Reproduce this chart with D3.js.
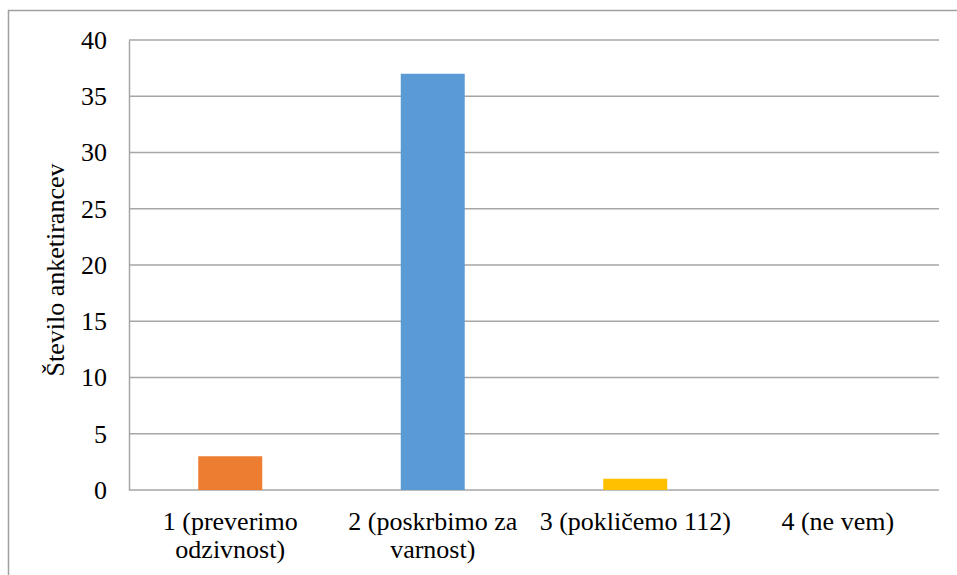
<!DOCTYPE html>
<html>
<head>
<meta charset="utf-8">
<script src="https://cdn.jsdelivr.net/npm/d3@7"></script>
<style>
  body { margin: 0; background: #fff; }
</style>
</head>
<body>
<div id="chart"></div>
<script>
// Data
const categories = ["1", "2", "3", "4"];
const categoryLabels = [
    ["1 (preverimo", "odzivnost)"],
    ["2 (poskrbimo za", "varnost)"],
    ["3 (pokličemo 112)"],
    ["4 (ne vem)"]
];
const counts = [3, 37, 1, 0];
const barColors = ["#ED7D31", "#5B9BD5", "#FFC000", "#A5A5A5"];
const yTicks = [0, 5, 10, 15, 20, 25, 30, 35, 40];
const yTitle = "Število anketirancev";

const FONT = "Liberation Serif, Tinos, DejaVu Serif, serif";

// Dimensions
const W = 957, H = 575;
const margin = { top: 40, right: 18, bottom: 85, left: 129 },
    width = W - margin.left - margin.right,
    height = H - margin.top - margin.bottom;

const root = d3.select("#chart")
    .append("svg")
    .attr("width", W)
    .attr("height", H)
    .style("font-family", FONT);

// Chart border (cropped on the right and bottom)
root.append("rect")
    .attr("x", 8.5)
    .attr("y", 10.5)
    .attr("width", 1000)
    .attr("height", 1000)
    .attr("fill", "none")
    .attr("stroke", "#a0a0a0")
    .attr("stroke-width", 1.5);

const svg = root.append("g")
    .attr("transform", `translate(${margin.left},${margin.top})`);

// Scales
const x = d3.scaleBand()
    .domain(categories)
    .range([0, width])
    .paddingInner(0.684)
    .paddingOuter(0.342);

const y = d3.scaleLinear()
    .domain([0, 40])
    .range([height, 0]);

// Gridlines
svg.append("g")
    .attr("class", "grid")
    .selectAll("line")
    .data(yTicks)
    .enter().append("line")
    .attr("x1", 0)
    .attr("x2", width)
    .attr("y1", d => y(d))
    .attr("y2", d => y(d))
    .attr("stroke", "#a6a6a6")
    .attr("stroke-width", 1.5);

// Y axis
const yAxis = svg.append("g")
    .call(d3.axisLeft(y).tickValues(yTicks).tickSize(0).tickPadding(22))
    .attr("font-family", FONT)
    .attr("font-size", 26);
yAxis.select(".domain").attr("stroke", "#a6a6a6").attr("stroke-width", 1.5);
yAxis.selectAll("text").attr("fill", "#000");

// Y title
svg.append("text")
    .attr("transform", "rotate(-90)")
    .attr("x", -height / 2 - 5)
    .attr("y", -margin.left + 64)
    .attr("text-anchor", "middle")
    .attr("font-family", FONT)
    .attr("font-size", 26)
    .text(yTitle);

// Bars
svg.selectAll(".bar")
    .data(counts)
    .enter().append("rect")
    .attr("class", "bar")
    .attr("x", (d, i) => x(categories[i]))
    .attr("y", d => y(d))
    .attr("width", x.bandwidth())
    .attr("height", d => height - y(d))
    .attr("fill", (d, i) => barColors[i]);

// Category labels
const labels = svg.append("g")
    .selectAll("text")
    .data(categoryLabels)
    .enter().append("text")
    .attr("x", (d, i) => x(categories[i]) + x.bandwidth() / 2)
    .attr("y", height + 40)
    .attr("text-anchor", "middle")
    .attr("font-family", FONT)
    .attr("font-size", 26);

labels.selectAll("tspan")
    .data(d => d)
    .enter().append("tspan")
    .attr("x", function () { return d3.select(this.parentNode).attr("x"); })
    .attr("dy", (d, i) => i === 0 ? 0 : 28)
    .text(d => d);
</script>
</body>
</html>
